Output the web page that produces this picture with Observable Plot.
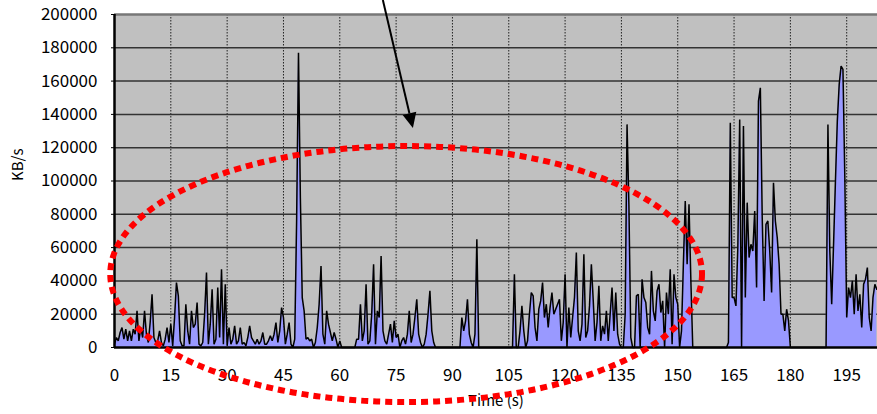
<!DOCTYPE html>
<html><head><meta charset="utf-8">
<script src="https://cdn.jsdelivr.net/npm/d3@7"></script>
<script src="https://cdn.jsdelivr.net/npm/@observablehq/plot@0.6"></script>
<style>
html,body{margin:0;padding:0;background:#fff;}
#chart svg{display:block}
</style></head><body><div id="chart"></div>
<script>
// sampling interval of the throughput trace (seconds)
const sampleStep = 0.5;
// throughput in KB/s, one value per sample (t = 0, 0.5, 1.0, ...)
const kbps = [
  2000, 6000, 4000, 9000, 12000, 5000, 11000, 4000, 10000, 4000,
  11000, 8000, 22000, 4000, 12000, 6000, 22000, 8000, 3000, 15000,
  32000, 6000, 3000, 4000, 10000, 3000, 1000, 5000, 12000, 3000,
  14000, 1000, 18000, 39000, 31000, 4000, 1000, 1000, 26000, 10000,
  2000, 22000, 12000, 14000, 27000, 2000, 1000, 3000, 20000, 45000,
  2000, 14000, 35000, 2000, 5000, 36000, 6000, 47000, 2000, 38000,
  1000, 12000, 2000, 5000, 13000, 2000, 4000, 12000, 2000, 3000,
  1000, 6000, 13000, 6000, 4000, 2000, 5000, 2000, 4000, 9000,
  2000, 2000, 4000, 7000, 4000, 8000, 15000, 3000, 10000, 24000,
  18000, 2000, 8000, 15000, 2000, 0, 5000, 76000, 177000, 90000,
  30000, 22000, 5000, 6000, 4000, 5000, 0, 3000, 12000, 26000,
  49000, 8000, 2000, 22000, 14000, 9000, 4000, 9000, 5000, 0,
  4000, 0, 0, 0, 0, 0, 0, 0, 0, 5000,
  5000, 26000, 4000, 10000, 38000, 2000, 4000, 20000, 50000, 2000,
  22000, 18000, 55000, 10000, 4000, 2000, 8000, 14000, 3000, 16000,
  6000, 8000, 0, 4000, 6000, 2000, 8000, 22000, 3000, 8000,
  18000, 29000, 8000, 3000, 0, 2000, 8000, 20000, 34000, 10000,
  3000, 0, 0, 0, 0, 0, 0, 0, 0, 0,
  0, 0, 0, 0, 0, 18000, 10000, 16000, 29000, 8000,
  3000, 0, 8000, 65000, 0, 0, 0, 0, 0, 0,
  0, 0, 0, 0, 0, 0, 0, 0, 0, 0,
  0, 0, 0, 44000, 0, 0, 10000, 25000, 10000, 0,
  4000, 20000, 33000, 31000, 12000, 4000, 23000, 28000, 39000, 18000,
  26000, 12000, 24000, 33000, 20000, 23000, 26000, 29000, 4000, 15000,
  44000, 0, 24000, 6000, 18000, 30000, 57000, 10000, 4000, 14000,
  56000, 6000, 10000, 25000, 50000, 28000, 4000, 15000, 37000, 4000,
  13000, 8000, 22000, 4000, 20000, 36000, 10000, 33000, 8000, 2000,
  0, 0, 20000, 134000, 85000, 6000, 0, 0, 31000, 32000,
  0, 41000, 30000, 27000, 12000, 8000, 46000, 22000, 16000, 34000,
  38000, 21000, 28000, 0, 33000, 20000, 47000, 2000, 44000, 30000,
  26000, 0, 10000, 50000, 88000, 50000, 86000, 40000, 0, 0,
  0, 0, 0, 0, 0, 0, 0, 0, 0, 0,
  0, 0, 0, 0, 0, 0, 0, 3000, 135000, 30000,
  30000, 25000, 60000, 137000, 0, 133000, 30000, 87000, 54000, 62000,
  58000, 82000, 36000, 148000, 156000, 78000, 28000, 74000, 76000, 58000,
  33000, 99000, 76000, 66000, 50000, 20000, 20000, 10000, 23000, 16000,
  0, 0, 0, 0, 0, 0, 0, 0, 0, 0,
  0, 0, 0, 0, 0, 0, 0, 0, 0, 0,
  134000, 58000, 26000, 62000, 100000, 136000, 158000, 169000, 167000, 102000,
  18000, 36000, 30000, 40000, 20000, 44000, 22000, 32000, 12000, 38000,
  41000, 48000, 18000, 10000, 30000, 38000, 35000
];
const xTicks = [0, 15, 30, 45, 60, 75, 90, 105, 120, 135, 150, 165, 180, 195];
const yTicks = [0, 20000, 40000, 60000, 80000, 100000, 120000, 140000, 160000, 180000, 200000];
const xDomain = [0, 203.2];
const yDomain = [0, 200000];
const yLabel = "KB/s";
const xLabel = "Time (s)";
// annotation (data coordinates): dotted ellipse and arrow
const ellipseCenter = [77.8, 43800];
const ellipseRadii = [78.8, 76900];
const arrowFrom = [71.6, 208400];
const arrowTo = [79.6, 131500];

const data = kbps.map((v, i) => ({t: i * sampleStep, v}));
const font = "'Noto Sans CJK JP', 'Noto Sans', sans-serif";

const chart = Plot.plot({
  width: 877, height: 414,
  marginLeft: 114, marginRight: 0, marginTop: 14, marginBottom: 67,
  style: {fontFamily: font, background: "white", color: "#000"},
  x: {domain: xDomain},
  y: {domain: yDomain},
  marks: [
    Plot.frame({fill: "#c0c0c0", stroke: null}),
    Plot.ruleX(xTicks.filter(d => d > 0), {stroke: "#222", strokeWidth: 1, strokeDasharray: "1.5,1.5"}),
    Plot.ruleY(yTicks.filter(d => d > 0 && d < 200000), {stroke: "#333", strokeWidth: 1.5}),
    Plot.ruleY([200000], {stroke: "#777", strokeWidth: 2.5}),
    Plot.areaY(data, {x: "t", y: "v", fill: "#9999ff"}),
    Plot.lineY(data, {x: "t", y: "v", stroke: "#000", strokeWidth: 1.5, strokeLinejoin: "miter"}),
    Plot.ruleX([0], {stroke: "#000", strokeWidth: 2.5}),
    Plot.ruleY([0], {stroke: "#000", strokeWidth: 2.5}),
    Plot.axisY({ticks: yTicks, tickFormat: d => String(d), tickSize: 3, tickPadding: 14, fontSize: 17, label: null}),
    Plot.axisX({ticks: xTicks, tickFormat: d => String(d), tickSize: 0, tickPadding: 21, fontSize: 17, label: null}),
    Plot.text([yLabel], {frameAnchor: "left", dx: -96, rotate: -90, fontSize: 15, fill: "#000"}),
    Plot.text([xLabel], {frameAnchor: "bottom", dy: 58, fontSize: 15, fill: "#000"})
  ]
});
document.getElementById("chart").appendChild(chart);

// annotations positioned with the plot's own scales
const sx = chart.scale("x"), sy = chart.scale("y");
const svg = d3.select(chart);
const cx = sx.apply(ellipseCenter[0]), cy = sy.apply(ellipseCenter[1]);
const rx = sx.apply(ellipseCenter[0] + ellipseRadii[0]) - cx;
const ry = cy - sy.apply(ellipseCenter[1] + ellipseRadii[1]);
svg.append("ellipse")
  .attr("cx", cx).attr("cy", cy).attr("rx", rx).attr("ry", ry)
  .attr("fill", "none").attr("stroke", "#ff0000")
  .attr("stroke-width", 6).attr("stroke-dasharray", "7 5");

const x1 = sx.apply(arrowFrom[0]), y1 = sy.apply(arrowFrom[1]);
const x2 = sx.apply(arrowTo[0]), y2 = sy.apply(arrowTo[1]);
const ang = Math.atan2(y2 - y1, x2 - x1);
const headLen = 15, headHalf = 7;
const bx = x2 - headLen * Math.cos(ang), by = y2 - headLen * Math.sin(ang);
svg.append("line").attr("x1", x1).attr("y1", y1).attr("x2", bx).attr("y2", by)
  .attr("stroke", "#000").attr("stroke-width", 2);
const px = -Math.sin(ang), py = Math.cos(ang);
svg.append("polygon")
  .attr("points", [[x2, y2], [bx + px * headHalf, by + py * headHalf], [bx - px * headHalf, by - py * headHalf]].map(p => p.join(",")).join(" "))
  .attr("fill", "#000");
</script></body></html>
